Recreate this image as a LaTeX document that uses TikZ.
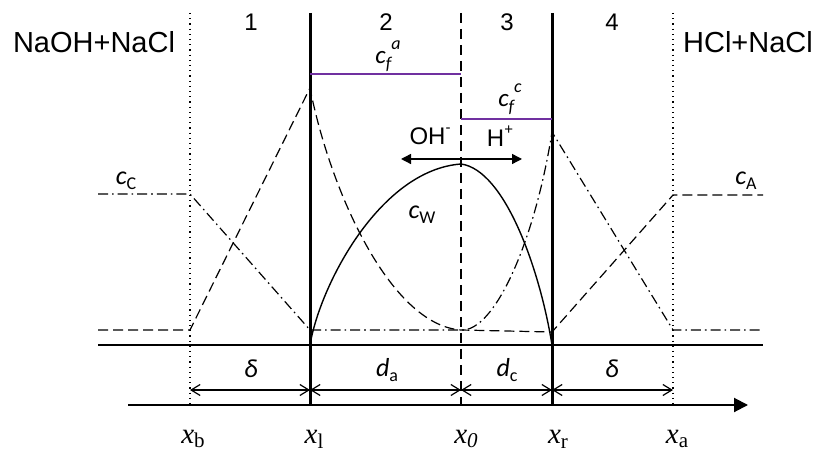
\documentclass[tikz,border=0pt]{standalone}
\usepackage{fontspec}
\setmainfont{Liberation Sans}
\newfontfamily\calfont{Carlito}
\newfontfamily\timesfont{Liberation Serif}
\usepackage{xcolor}
\definecolor{cfpurple}{RGB}{112, 48, 160}
\usetikzlibrary{arrows.meta}

% etiquetas de posicion x_b, x_l, ...
\newcommand\xpos[1]{{\timesfont\fontsize{14.5}{14.5}\selectfont\itshape x}\raisebox{-0.45ex}{\timesfont\fontsize{10.5}{10.5}\selectfont #1}}
% concentraciones c_C, d_a, ...
\newcommand\csym[2]{{\calfont\itshape #1}\raisebox{-0.35ex}{\calfont\fontsize{9}{9}\selectfont #2}}

\begin{document}
\begin{tikzpicture}[x=0.5pt, y=-0.5pt, >=Stealth,
    wall/.style={line width=1.5pt},
    bound/.style={dotted, line width=0.6pt},
    midplane/.style={dash pattern=on 5pt off 3pt, line width=0.6pt},
    cdash/.style={dash pattern=on 5pt off 2.5pt, line width=0.6pt},
    cdashdot/.style={dash pattern=on 5pt off 2pt on 0.8pt off 2pt, line width=0.6pt},
    dimline/.style={line width=0.6pt,
        {Straight Barb[length=4.5pt,width=5.5pt]}-{Straight Barb[length=4.5pt,width=5.5pt]}},
    fixline/.style={cfpurple, line width=0.8pt},
    lbl/.style={inner sep=0pt}]

\useasboundingbox (0,0) rectangle (817,453);

% === Posiciones ===
\coordinate (xbT) at (190,13);  \coordinate (xbB) at (190,405);
\coordinate (xlT) at (310,13);  \coordinate (xlB) at (310,405);
\coordinate (x0T) at (461,13);  \coordinate (x0B) at (461,405);
\coordinate (xrT) at (552,13);  \coordinate (xrB) at (552,405);
\coordinate (xaT) at (673,13);  \coordinate (xaB) at (673,405);

% === Limites y membranas ===
\draw[bound] (xbT) -- (xbB);
\draw[bound] (xaT) -- (xaB);
\draw[midplane] (x0T) -- (x0B);
\draw[wall] (xlT) -- (xlB);
\draw[wall] (xrT) -- (xrB);

% linea base y eje x
\coordinate (baseL) at (98,345);  \coordinate (baseR) at (763,345);
\draw[line width=0.65pt] (baseL) -- (baseR);
\coordinate (axisL) at (128,405); \coordinate (axisR) at (748,405);
\draw[line width=1pt, -{Triangle[length=7pt,width=7pt]}] (axisL) -- (axisR);

% === Cotas ===
\coordinate (db) at (190,390); \coordinate (dl) at (310,390);
\coordinate (d0) at (461,390); \coordinate (dr) at (552,390);
\coordinate (da) at (673,390);
\draw[dimline] (db) -- (dl);
\draw[dimline] (dl) -- (d0);
\draw[dimline] (d0) -- (dr);
\draw[dimline] (dr) -- (da);

% === Cargas fijas ===
\coordinate (cfaL) at (310,74);  \coordinate (cfaR) at (461,74);
\coordinate (cfcL) at (461,119); \coordinate (cfcR) at (552,119);
\draw[fixline] (cfaL) -- (cfaR);
\draw[fixline] (cfcL) -- (cfcR);

% === Perfiles de concentracion ===
% c_C (raya-punto)
\draw[cdashdot] (98,194) -- (190,194) -- (310,330) -- (461,330)
    .. controls (495,332) and (535,240) .. (552,132)
    -- (673,330) -- (763,330);
% c_A (rayas)
\draw[cdash] (98,330) -- (190,330) -- (310,88)
    .. controls (330,190) and (390,325) .. (461,330)
    -- (552,332) -- (673,195) -- (763,195);
% c_W (continua)
\draw[line width=0.7pt] (310,345) .. controls (320,285) and (380,170) .. (461,164)
    .. controls (505,170) and (540,270) .. (552,345);

% flujo OH- / H+
\coordinate (fluxL) at (401,159); \coordinate (fluxR) at (522,159);
\draw[line width=0.7pt, {Triangle[length=5pt,width=5pt]}-{Triangle[length=5pt,width=5pt]}] (fluxL) -- (fluxR);

% === Etiquetas ===
\node[lbl, font=\fontsize{14.5}{14.5}\selectfont] (feedL) at (94,42) {NaOH+NaCl};
\node[lbl, font=\fontsize{14.5}{14.5}\selectfont] (feedR) at (748,42) {HCl+NaCl};
\node[lbl, font=\fontsize{12}{12}\selectfont] (reg1) at (251,22) {1};
\node[lbl, font=\fontsize{12}{12}\selectfont] (reg2) at (386,22) {2};
\node[lbl, font=\fontsize{12}{12}\selectfont] (reg3) at (507,22) {3};
\node[lbl, font=\fontsize{12}{12}\selectfont] (reg4) at (612,22) {4};

\node[lbl, font=\calfont\itshape\fontsize{12.5}{12.5}\selectfont] (cfa) at (388,56)
    {c\raisebox{-0.45ex}{\fontsize{9}{9}\selectfont f}\raisebox{1.2ex}{\fontsize{9}{9}\selectfont a}};
\node[lbl, font=\calfont\itshape\fontsize{12.5}{12.5}\selectfont] (cfc) at (510,99)
    {c\raisebox{-0.45ex}{\fontsize{9}{9}\selectfont f}\raisebox{1.2ex}{\fontsize{9}{9}\selectfont c}};

\node[lbl, font=\fontsize{12}{12}\selectfont] (oh) at (430,136) {OH\raisebox{0.9ex}{\fontsize{7.5}{7.5}\selectfont -}};
\node[lbl, font=\fontsize{12}{12}\selectfont] (hp) at (500,136) {H\raisebox{0.9ex}{\fontsize{7.5}{7.5}\selectfont +}};

\node[lbl, font=\fontsize{13}{13}\selectfont] (cC) at (126,181) {\csym{c}{C}};
\node[lbl, font=\fontsize{13}{13}\selectfont] (cA) at (746,181) {\csym{c}{A}};
\node[lbl, font=\fontsize{13}{13}\selectfont] (cW) at (422,215) {\csym{c}{W}};

\node[lbl, font=\calfont\itshape\fontsize{13}{13}\selectfont] (dlt1) at (251,369) {δ};
\node[lbl, font=\fontsize{13}{13}\selectfont] (dA) at (387,370) {\csym{d}{a}};
\node[lbl, font=\fontsize{13}{13}\selectfont] (dC) at (507,370) {\csym{d}{c}};
\node[lbl, font=\calfont\itshape\fontsize{13}{13}\selectfont] (dlt2) at (612,369) {δ};

\node[lbl] (lxb) at (193,439) {\xpos{b}};
\node[lbl] (lxl) at (314,439) {\xpos{l}};
\node[lbl] (lx0) at (466,439) {\xpos{\itshape 0}};
\node[lbl] (lxr) at (558,439) {\xpos{r}};
\node[lbl] (lxa) at (677,439) {\xpos{a}};

\end{tikzpicture}
\end{document}
